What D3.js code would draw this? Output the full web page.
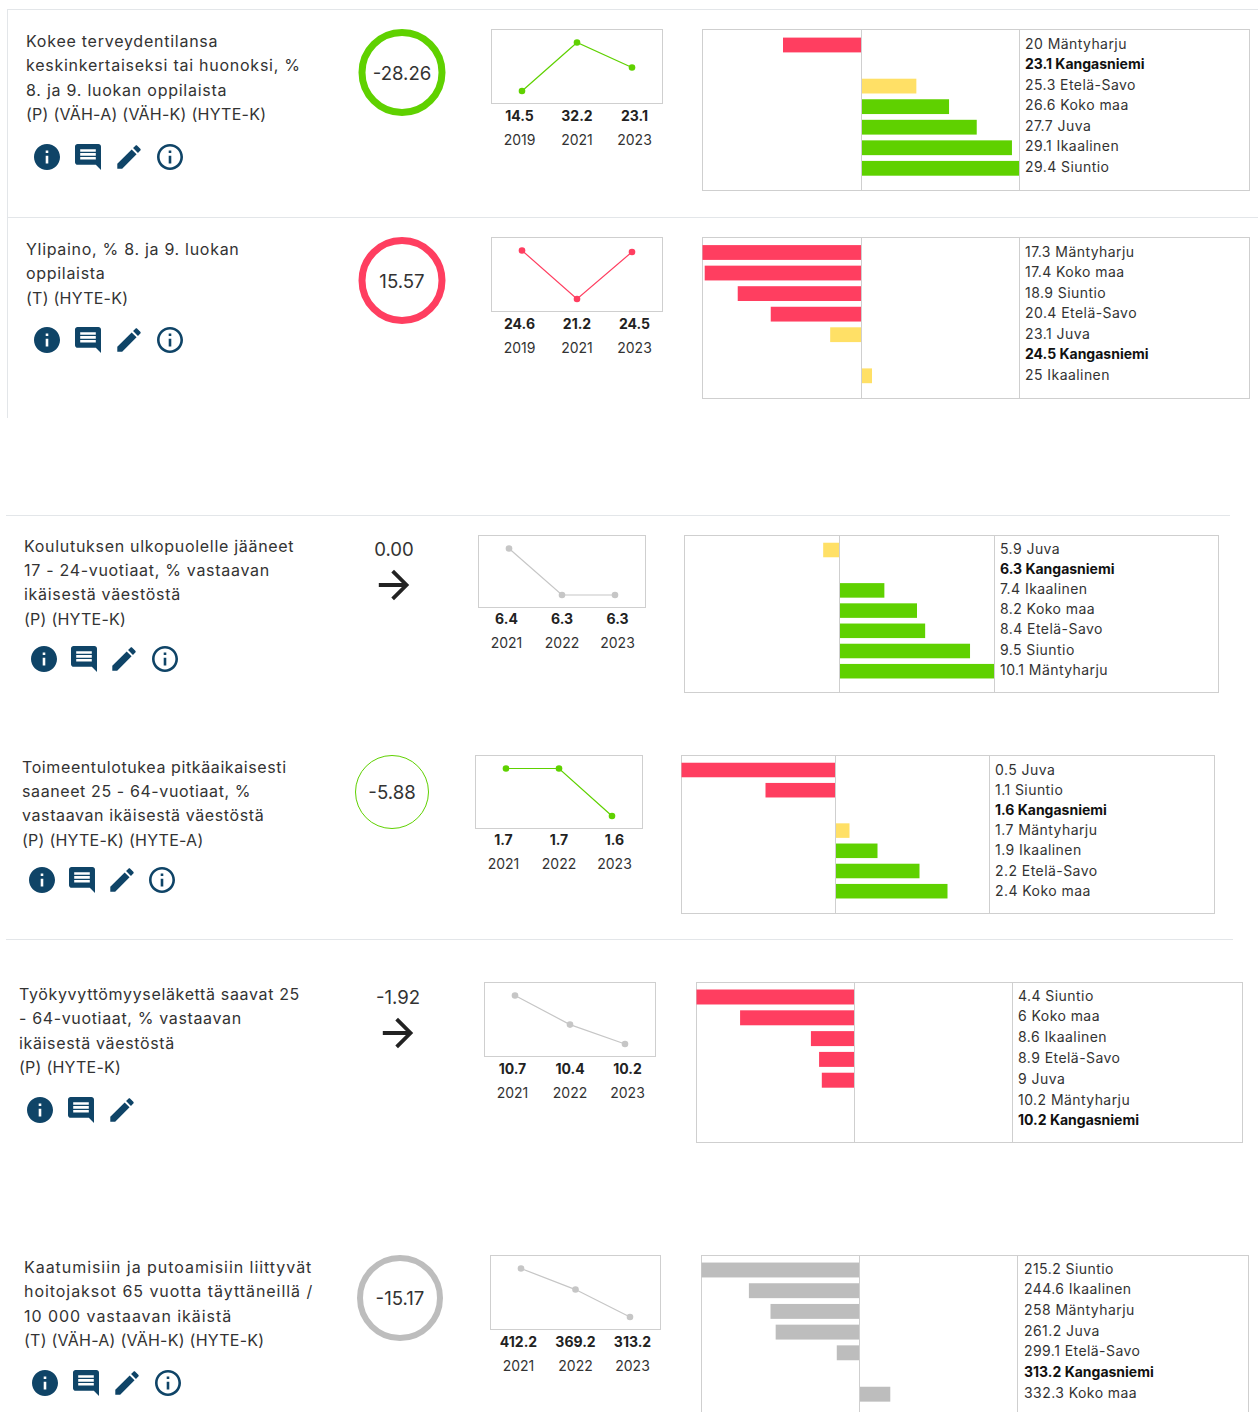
<!DOCTYPE html>
<html lang="fi">
<head>
<meta charset="utf-8">
<title>Indikaattorit</title>
<script src="https://d3js.org/d3.v7.min.js"></script>
<style>
html,body{margin:0;padding:0;background:#fff;overflow:hidden}
svg{display:block}
text{font-family:"Inter","Noto Sans",sans-serif;font-weight:400;fill:#333}
</style>
</head>
<body>
<div id="chart"></div>
<script>
// ---------- DATA ----------
const titles = [
  ["Kokee terveydentilansa","keskinkertaiseksi tai huonoksi, %","8. ja 9. luokan oppilaista","(P) (VÄH-A) (VÄH-K) (HYTE-K)"],
  ["Ylipaino, % 8. ja 9. luokan","oppilaista","(T) (HYTE-K)"],
  ["Koulutuksen ulkopuolelle jääneet","17 - 24-vuotiaat, % vastaavan","ikäisestä väestöstä","(P) (HYTE-K)"],
  ["Toimeentulotukea pitkäaikaisesti","saaneet 25 - 64-vuotiaat, %","vastaavan ikäisestä väestöstä","(P) (HYTE-K) (HYTE-A)"],
  ["Työkyvyttömyyseläkettä saavat 25","- 64-vuotiaat, % vastaavan","ikäisestä väestöstä","(P) (HYTE-K)"],
  ["Kaatumisiin ja putoamisiin liittyvät","hoitojaksot 65 vuotta täyttäneillä /","10 000 vastaavan ikäistä","(T) (VÄH-A) (VÄH-K) (HYTE-K)"]
];
const changes = [-28.26, 15.57, 0.00, -5.88, -1.92, -15.17];
const changeMarks = ["ring","ring","arrow","thin","arrow","ring"];
const trendTones = ["good","bad","muted","good","muted","muted"];
const trendYears = [
  ["2019","2021","2023"],["2019","2021","2023"],["2021","2022","2023"],
  ["2021","2022","2023"],["2021","2022","2023"],["2021","2022","2023"]
];
const trendValues = [
  [14.5,32.2,23.1],[24.6,21.2,24.5],[6.4,6.3,6.3],
  [1.7,1.7,1.6],[10.7,10.4,10.2],[412.2,369.2,313.2]
];
const regionNames = [
  ["Mäntyharju","Kangasniemi","Etelä-Savo","Koko maa","Juva","Ikaalinen","Siuntio"],
  ["Mäntyharju","Koko maa","Siuntio","Etelä-Savo","Juva","Kangasniemi","Ikaalinen"],
  ["Juva","Kangasniemi","Ikaalinen","Koko maa","Etelä-Savo","Siuntio","Mäntyharju"],
  ["Juva","Siuntio","Kangasniemi","Mäntyharju","Ikaalinen","Etelä-Savo","Koko maa"],
  ["Siuntio","Koko maa","Ikaalinen","Etelä-Savo","Juva","Mäntyharju","Kangasniemi"],
  ["Siuntio","Ikaalinen","Mäntyharju","Juva","Etelä-Savo","Kangasniemi","Koko maa"]
];
const regionValues = [
  [20,23.1,25.3,26.6,27.7,29.1,29.4],
  [17.3,17.4,18.9,20.4,23.1,24.5,25],
  [5.9,6.3,7.4,8.2,8.4,9.5,10.1],
  [0.5,1.1,1.6,1.7,1.9,2.2,2.4],
  [4.4,6,8.6,8.9,9,10.2,10.2],
  [215.2,244.6,258,261.2,299.1,313.2,332.3]
];
const regionTones = [
  ["bad","own","mid","good","good","good","good"],
  ["bad","bad","bad","bad","mid","own","mid"],
  ["mid","own","good","good","good","good","good"],
  ["bad","bad","own","mid","good","good","good"],
  ["bad","bad","bad","bad","bad","bad","own"],
  ["muted","muted","muted","muted","muted","own","muted"]
];
const iconSets = [
  ["info","comment","edit","about"],["info","comment","edit","about"],["info","comment","edit","about"],
  ["info","comment","edit","about"],["info","comment","edit"],["info","comment","edit","about"]
];

// ---------- STYLE & LAYOUT ----------
const toneColor = {good:"#5fd100",bad:"#ff3e60",mid:"#ffe066",muted:"#bdbdbd",own:"none"};
const ringColor = {good:"#5fd100",bad:"#ff3e60",muted:"#bdbdbd"};
const trendColor = {good:"#5fd100",bad:"#ff3e60",muted:"#c6c6c6"};
const iconColor = "#0f4467";
const lineColor = "#cfcfcf";
const titleSize = 16, tagTrack = 0.25, labelSize = 14, labelTrack = 0.44, trendSize = 14, changeSize = 18.6;

const layouts = [
  {tx:26,ty:41,cx:402,cy:72.5,lead:24.35,track:0.75, sl:491,sr:663,st:29,sb:103,vy:115.5,yy:139.5, cl:702,cr:1250,ct:29,cb:190,dv:1019,lx:1025,step:20.55,b0:16,lo:-2,icy:157,icx:[47,88,129,170]},
  {tx:26,ty:249,cx:402,cy:280.5,lead:24.35,track:0.7, sl:491,sr:663,st:237,sb:311,vy:323.5,yy:347.5, cl:702,cr:1250,ct:237,cb:398,dv:1019,lx:1025,step:20.55,b0:15.5,lo:-1.5,icy:340,icx:[47,88,129,170]},
  {tx:24,ty:546,cx:394,cy:549,lead:24.2,track:0.7, sl:478,sr:646,st:535,sb:607,vy:618.5,yy:642.5, cl:684,cr:1219,ct:535,cb:692,dv:994,lx:1000,step:20.2,b0:15,lo:-2,icy:659,icx:[44,84,124,165]},
  {tx:22,ty:767,cx:392,cy:792,lead:24.2,track:0.6, sl:475,sr:643,st:755,sb:828,vy:839.5,yy:863.5, cl:681,cr:1215,ct:755,cb:913,dv:989,lx:995,step:20.2,b0:15,lo:-1,icy:880,icx:[42,82,122,162]},
  {tx:19,ty:994,cx:398,cy:997,lead:24.4,track:0.65, sl:484,sr:656,st:982,sb:1056,vy:1068.5,yy:1092.5, cl:696,cr:1243,ct:982,cb:1142,dv:1012,lx:1018,step:20.8,b0:15,lo:-2,icy:1110,icx:[40,81,122]},
  {tx:24,ty:1266.5,cx:400,cy:1298,lead:24.5,track:0.95, sl:490,sr:661,st:1255,sb:1329,vy:1341.5,yy:1365.5, cl:701,cr:1249,ct:1255,cb:1432,dv:1017,lx:1024,step:20.7,b0:15,lo:-2,icy:1383,icx:[45,86,127,168]}
];
const rules = [
  {x1:7,x2:1258,y1:9.5,y2:9.5},{x1:7,x2:1258,y1:217.5,y2:217.5},{x1:7.5,x2:7.5,y1:9,y2:418},
  {x1:6,x2:1230,y1:515.5,y2:515.5},{x1:6,x2:1233,y1:939.5,y2:939.5}
];
const iconPaths = {
  info:"M12 2C6.48 2 2 6.48 2 12s4.48 10 10 10 10-4.48 10-10S17.52 2 12 2zm1 15h-2v-6h2v6zm0-8h-2V7h2v2z",
  comment:"M21.99 4c0-1.1-.89-2-1.99-2H4c-1.1 0-2 .9-2 2v12c0 1.1.9 2 2 2h14l4 4-.01-18zM18 14H6v-2h12v2zm0-3H6V9h12v2zm0-3H6V6h12v2z",
  edit:"M3 17.25V21h3.75L17.81 9.94l-3.75-3.75L3 17.25zM20.71 7.04c.39-.39.39-1.02 0-1.41l-2.34-2.34c-.39-.39-1.02-.39-1.41 0l-1.83 1.83 3.75 3.75 1.83-1.83z",
  about:"M11 7h2v2h-2zm0 4h2v6h-2zm1-9C6.48 2 2 6.48 2 12s4.48 10 10 10 10-4.48 10-10S17.52 2 12 2zm0 18c-4.41 0-8-3.59-8-8s3.59-8 8-8 8 3.59 8 8-3.59 8-8 8z"
};
const arrowPath = "M12 4l-1.41 1.41L16.17 11H4v2h12.17l-5.58 5.59L12 20l8-8z";

// ---------- DRAW ----------
const svg = d3.select("#chart").append("svg").attr("width",1258).attr("height",1412);

svg.append("g").selectAll("line").data(rules).join("line")
  .attr("x1",d=>d.x1).attr("x2",d=>d.x2).attr("y1",d=>d.y1).attr("y2",d=>d.y2)
  .attr("stroke","#e3e6e9").attr("stroke-width",1);

titles.forEach((lines,i)=>{
  const L = layouts[i];
  const g = svg.append("g").attr("class","panel");

  // title
  g.append("g").selectAll("text").data(lines).join("text")
    .attr("x",L.tx).attr("y",(d,k)=>L.ty+k*L.lead)
    .attr("dominant-baseline","central")
    .attr("font-size",titleSize)
    .attr("letter-spacing",d=>d.startsWith("(")?tagTrack:L.track).text(d=>d);

  // icons
  g.append("g").selectAll("path").data(iconSets[i]).join("path")
    .attr("d",d=>iconPaths[d])
    .attr("transform",(d,k)=>`translate(${L.icx[k]-15.6},${L.icy-15.6}) scale(1.3)`)
    .attr("fill",iconColor);

  // change indicator
  const mark = changeMarks[i];
  const chg = changes[i].toFixed(2);
  if(mark==="arrow"){
    g.append("text").attr("x",L.cx).attr("y",L.cy).attr("text-anchor","middle")
      .attr("dominant-baseline","central").attr("font-size",changeSize).text(chg);
    g.append("path").attr("d",arrowPath)
      .attr("transform",`translate(${L.cx-22.8},${L.cy+36-22.8}) scale(1.9)`).attr("fill","#222");
  } else {
    const thin = mark==="thin";
    g.append("circle").attr("cx",L.cx).attr("cy",L.cy)
      .attr("r",thin?36.5:40).attr("fill","none")
      .attr("stroke",ringColor[trendTones[i]])
      .attr("stroke-width",thin?1:(trendTones[i]==="muted"?6:7));
    g.append("text").attr("x",L.cx).attr("y",L.cy).attr("text-anchor","middle")
      .attr("dominant-baseline","central").attr("font-size",changeSize).text(chg);
  }

  // sparkline
  const vals = trendValues[i], yrs = trendYears[i];
  const tone = trendColor[trendTones[i]];
  g.append("rect").attr("x",L.sl+.5).attr("y",L.st+.5).attr("width",L.sr-L.sl-1).attr("height",L.sb-L.st)
    .attr("fill","#fff").attr("stroke",lineColor);
  const xPt = d3.scalePoint().domain(yrs).range([L.sl+31,L.sr-31]);
  const xLab = d3.scalePoint().domain(yrs).range([L.sl+28.5,L.sr-28.5]);
  const yPt = d3.scaleLinear().domain(d3.extent(vals)).range([L.sb-12,L.st+13.5]);
  const pts = yrs.map((y,k)=>({y,v:vals[k]}));
  g.append("path").datum(pts)
    .attr("d",d3.line().x(d=>xPt(d.y)).y(d=>yPt(d.v)))
    .attr("fill","none").attr("stroke",tone).attr("stroke-width",1.2);
  g.append("g").selectAll("circle").data(pts).join("circle")
    .attr("cx",d=>xPt(d.y)).attr("cy",d=>yPt(d.v)).attr("r",3.3).attr("fill",tone);
  g.append("g").selectAll("text").data(pts).join("text")
    .attr("x",d=>xLab(d.y)).attr("y",L.vy).attr("text-anchor","middle").attr("dominant-baseline","central")
    .attr("font-size",trendSize).style("font-weight",700).style("fill","#222").text(d=>d.v);
  g.append("g").selectAll("text").data(pts).join("text")
    .attr("x",d=>xLab(d.y)).attr("y",L.yy).attr("text-anchor","middle").attr("dominant-baseline","central")
    .attr("font-size",trendSize).text(d=>d.y);

  // comparison bars
  const names = regionNames[i], rv = regionValues[i], tones = regionTones[i];
  const own = rv[tones.indexOf("own")];
  const reach = d3.max(rv,v=>Math.abs(v-own));
  const x = d3.scaleLinear().domain([own-reach,own+reach]).range([L.cl+.5,L.dv+.5]);
  const pad = 0.28;
  const top = L.ct+L.b0-L.step*(1-pad)/2;
  const y = d3.scaleBand().domain(names).range([top,top+(7-pad)*L.step]).paddingInner(pad);
  const rows = names.map((n,k)=>({n,v:rv[k],t:tones[k]}));

  g.append("rect").attr("x",L.cl+.5).attr("y",L.ct+.5).attr("width",L.cr-L.cl-1).attr("height",L.cb-L.ct)
    .attr("fill","#fff").attr("stroke",lineColor);
  g.append("g").selectAll("rect").data(rows.filter(d=>d.t!=="own")).join("rect")
    .attr("x",d=>Math.min(x(d.v),x(own))).attr("width",d=>Math.abs(x(d.v)-x(own)))
    .attr("y",d=>y(d.n)).attr("height",y.bandwidth()).attr("fill",d=>toneColor[d.t]);
  [Math.floor(x(own)),L.dv].forEach(px=>{
    g.append("line").attr("x1",px+.5).attr("x2",px+.5).attr("y1",L.ct).attr("y2",L.cb)
      .attr("stroke",lineColor);
  });
  g.append("g").selectAll("text").data(rows).join("text")
    .attr("x",L.lx).attr("y",d=>y(d.n)+y.bandwidth()/2+L.lo)
    .attr("dominant-baseline","central").attr("font-size",labelSize)
    .attr("letter-spacing",d=>d.t==="own"?0:labelTrack)
    .style("font-weight",d=>d.t==="own"?700:400).style("fill",d=>d.t==="own"?"#111":"#333")
    .text(d=>`${d.v} ${d.n}`);
});
</script>
</body>
</html>
